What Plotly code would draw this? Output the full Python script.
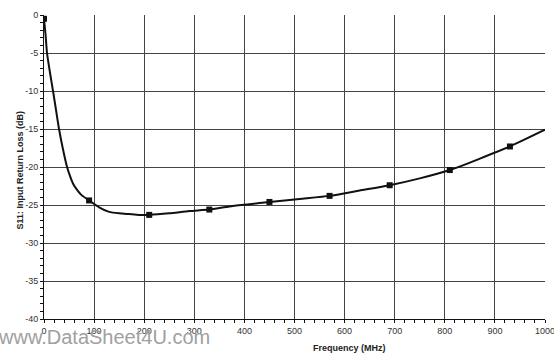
import plotly.graph_objects as go

# Curve (frequency MHz, S11 dB)
freq = [0, 3, 6, 12, 18, 24, 30, 38, 46, 52, 58, 66, 75, 90, 110, 130, 150, 170, 190, 210,
        250, 290, 330, 370, 410, 450, 510, 570, 630, 690, 750, 810, 870, 930, 1000]
s11 = [-0.5, -2.5, -5.0, -7.6, -10.0, -12.5, -15.0, -17.7, -20.0, -21.2, -22.2, -23.0, -23.7, -24.4,
       -25.3, -25.9, -26.1, -26.2, -26.3, -26.3, -26.1, -25.8, -25.6, -25.2, -24.9, -24.6,
       -24.2, -23.8, -23.1, -22.4, -21.5, -20.4, -18.9, -17.3, -15.1]

# Marker points
mk_freq = [0, 90, 210, 330, 450, 570, 690, 810, 930]
mk_s11 = [-0.5, -24.4, -26.3, -25.6, -24.6, -23.8, -22.4, -20.4, -17.3]

x_ticks = [0, 100, 200, 300, 400, 500, 600, 700, 800, 900, 1000]
y_ticks = [0, -5, -10, -15, -20, -25, -30, -35, -40]

fig = go.Figure()
fig.add_trace(go.Scatter(x=freq, y=s11, mode="lines", line=dict(color="#111111", width=2, shape="spline", smoothing=0.6),
                         hoverinfo="skip", showlegend=False))
fig.add_trace(go.Scatter(x=mk_freq, y=mk_s11, mode="markers",
                         marker=dict(symbol="square", size=6, color="#111111"), showlegend=False))

font = "Liberation Sans, Arial, sans-serif"
fig.update_layout(
    width=554, height=355,
    margin=dict(l=44, r=9, t=15, b=36, autoexpand=False),
    paper_bgcolor="white", plot_bgcolor="white",
    font=dict(family=font, size=9, color="#333333"),
    xaxis=dict(range=[0, 1000], tickvals=x_ticks, ticktext=[str(v) for v in x_ticks],
               showgrid=True, gridcolor="#444444", gridwidth=1,
               showline=True, linecolor="#111111", linewidth=1,
               ticks="outside", ticklen=3, tickcolor="#111111",
               minor=dict(dtick=20, ticks="outside", ticklen=3, tickcolor="#111111", showgrid=False),
               zeroline=False, tickfont=dict(size=9, color="#333333"),
               ticklabeloverflow="allow", automargin=False),
    yaxis=dict(range=[-40, 0], tickvals=y_ticks, ticktext=[str(v) for v in y_ticks],
               showgrid=True, gridcolor="#444444", gridwidth=1,
               showline=True, linecolor="#111111", linewidth=1,
               ticks="outside", ticklen=3, tickcolor="#111111",
               minor=dict(dtick=1, ticks="outside", ticklen=3, tickcolor="#111111", showgrid=False),
               zeroline=False, tickfont=dict(size=9, color="#333333"), automargin=False),
)
fig.add_annotation(text="<b>S11: Input Return Loss (dB)</b>", xref="paper", yref="paper",
                   x=-0.033, y=0.49, xanchor="right", yanchor="middle", textangle=-90,
                   showarrow=False, font=dict(size=9, color="#222222", family=font))
fig.add_annotation(text="<b>Frequency (MHz)</b>", xref="paper", yref="paper",
                   x=0.61, y=-0.072, xanchor="center", yanchor="top",
                   showarrow=False, font=dict(size=9, color="#222222", family=font))
fig.add_annotation(text="www.DataSheet4U.com", xref="paper", yref="paper",
                   x=0.335, y=-0.015, xanchor="right", yanchor="top",
                   showarrow=False, font=dict(size=20, color="#a0a0a0", family=font))

fig.write_html("out.html")
